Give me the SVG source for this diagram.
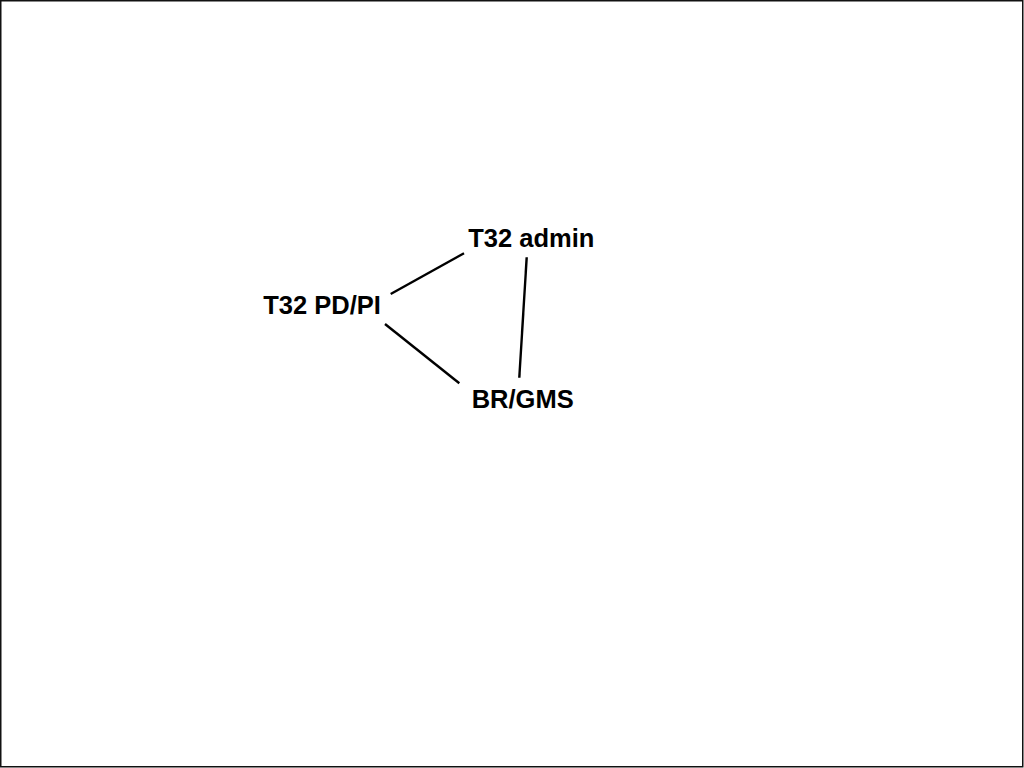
<svg xmlns="http://www.w3.org/2000/svg" width="1024" height="768" viewBox="0 0 1024 768">
<style>
.lbl{font-family:"Liberation Sans",Arial,sans-serif;font-weight:bold;font-size:25.5px;fill:#000}
.edge{stroke:#000;stroke-width:2.4;fill:none;stroke-linecap:butt}
</style>
<rect x="0.75" y="0.75" width="1022" height="766" fill="#fff" stroke="#111" stroke-width="1.5"/>
<g id="connectors">
<line class="edge" x1="390.7" y1="294" x2="464" y2="253.3"/>
<line class="edge" x1="385" y1="324" x2="459.3" y2="383.3"/>
<line class="edge" x1="526.7" y1="257.3" x2="519.3" y2="377.7"/>
</g>
<g id="node-admin"><text class="lbl" x="468.3" y="247.3">T32 admin</text></g>
<g id="node-pdpi"><text class="lbl" x="263.3" y="314.3">T32 PD/PI</text></g>
<g id="node-brgms"><text class="lbl" x="471.7" y="407.7">BR/GMS</text></g>
</svg>
